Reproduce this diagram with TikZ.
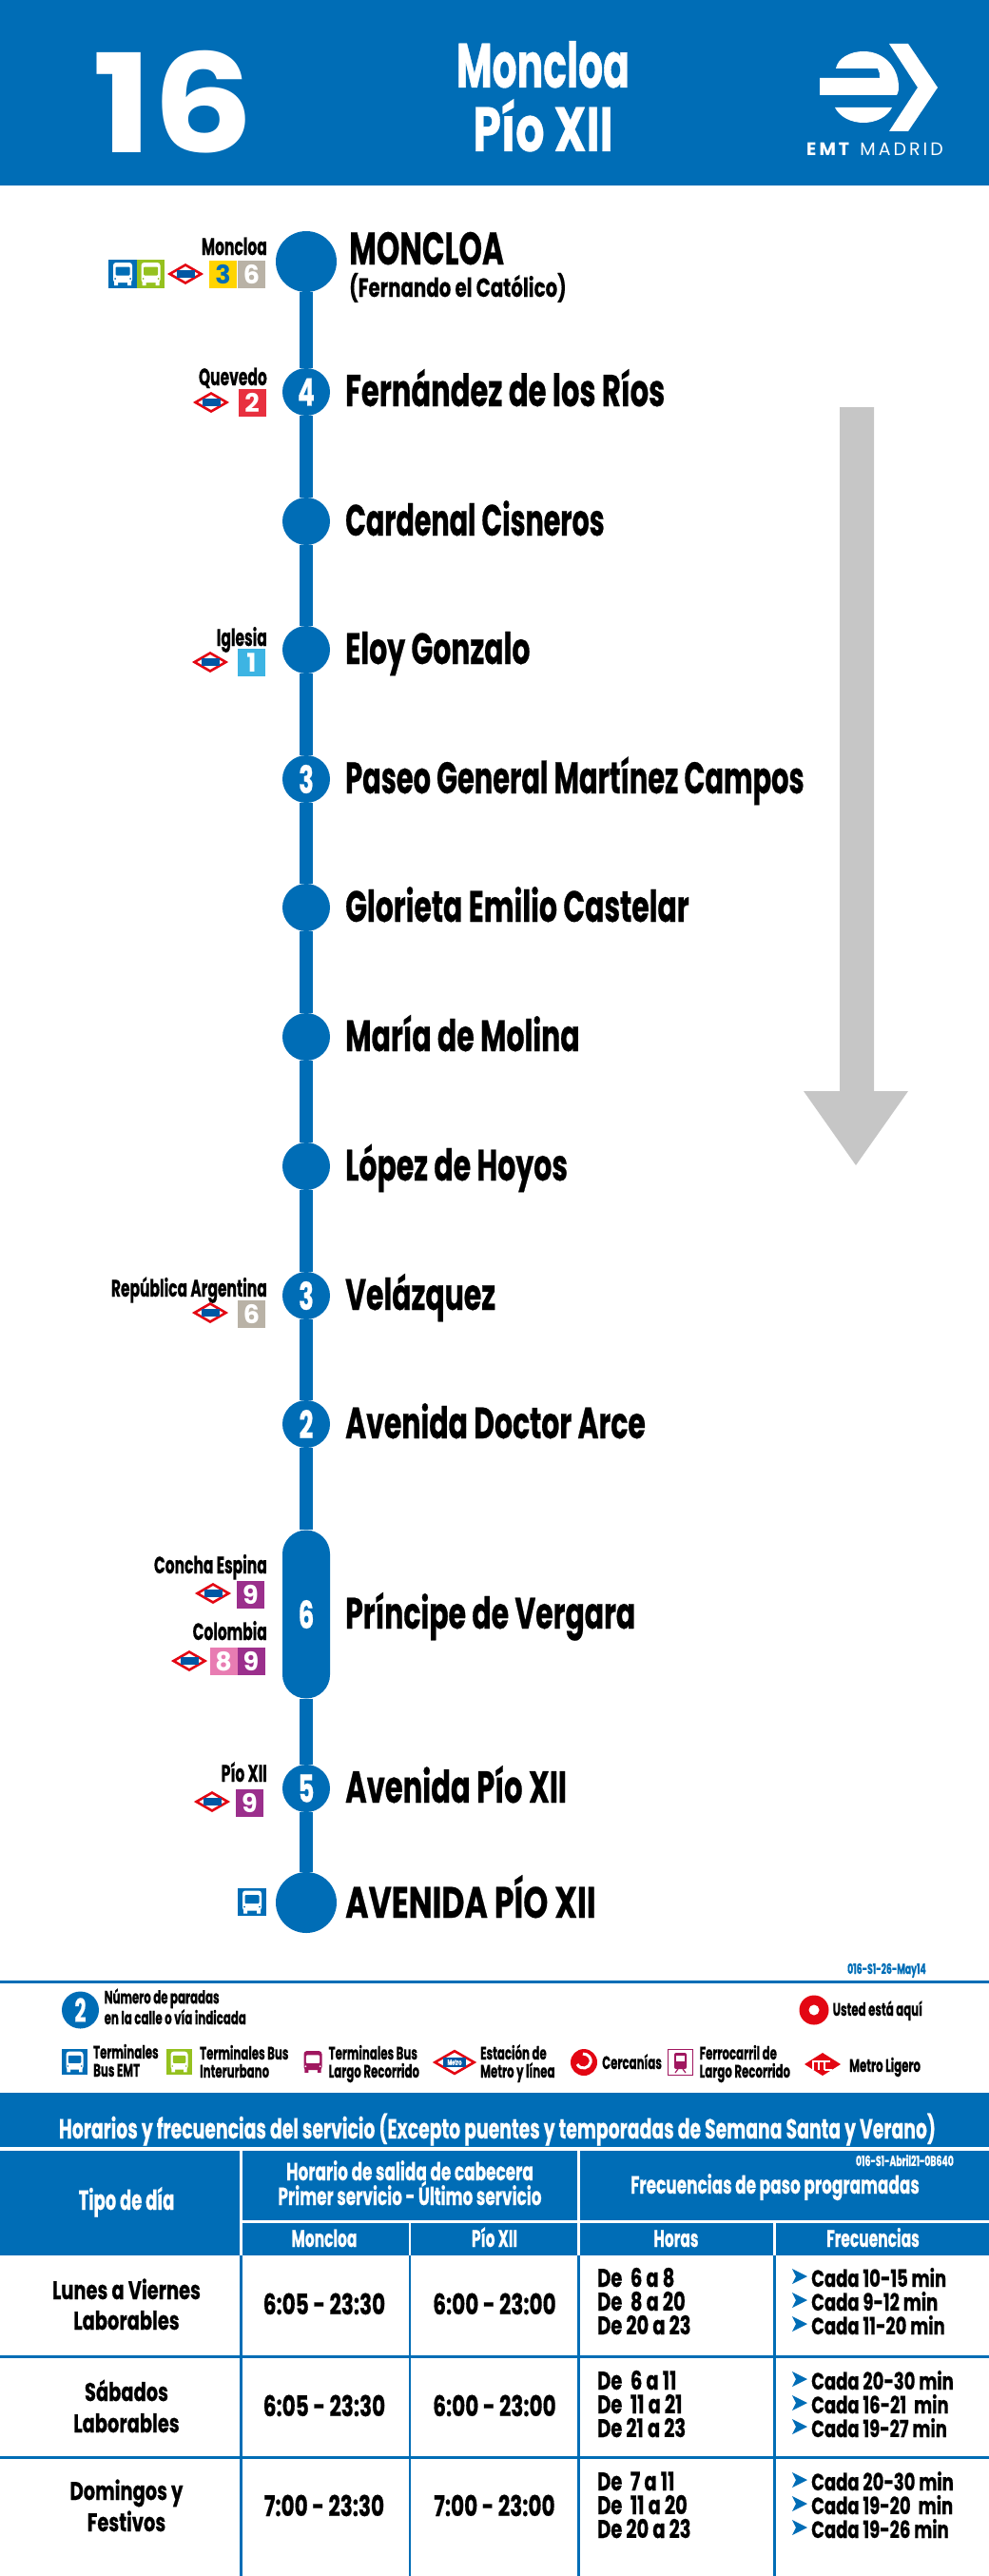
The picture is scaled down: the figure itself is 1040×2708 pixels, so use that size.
\documentclass[tikz,border=0pt]{standalone}
\usepackage{fontspec}
\usetikzlibrary{positioning}
\newfontfamily\emtfont{Poppins}[FakeStretch=0.62, FakeBold=0.5]
\newfontfamily\emtstop{Poppins}[FakeStretch=0.65, FakeBold=0.5]
\newfontfamily\emtmid{Poppins}[FakeStretch=0.72, FakeBold=0.5]
\newfontfamily\emtwide{Poppins}
\newfontfamily\emtbig{Poppins}[FakeStretch=1.16]
\newfontfamily\emtlogo{Poppins}[LetterSpace=16]
\definecolor{emtblue}{HTML}{006DB6}
\definecolor{emtgreen}{HTML}{95C11F}
\definecolor{metrored}{HTML}{E30613}
\definecolor{metroblue}{HTML}{0057A4}
\definecolor{lineyellow}{HTML}{FFD400}
\definecolor{linegrey}{HTML}{B9B2A6}
\definecolor{linered}{HTML}{E8303F}
\definecolor{linesky}{HTML}{3DB4E3}
\definecolor{linepurple}{HTML}{9B2F8C}
\definecolor{linepink}{HTML}{E87CB2}
\definecolor{longbus}{HTML}{A0175F}
\definecolor{arrowgrey}{HTML}{C6C6C6}
\newcommand{\emt}[1]{\emtfont\bfseries\fontsize{#1}{#1}\selectfont}
\newcommand{\ems}[1]{\emtstop\bfseries\fontsize{#1}{#1}\selectfont}
\newcommand{\emm}[1]{\emtmid\bfseries\fontsize{#1}{#1}\selectfont}
\newcommand{\wide}[1]{\emtwide\bfseries\fontsize{#1}{#1}\selectfont}
\tikzstyle{stop} = [circle, fill=emtblue, text=white, minimum size=50, inner sep=0, font=\ems{40}]
\tikzstyle{terminal} = [circle, fill=emtblue, minimum size=64, inner sep=0]
\tikzstyle{route} = [emtblue, line width=13.5]
\tikzstyle{stoplabel} = [anchor=base west, inner sep=0, font=\ems{46}]
\tikzstyle{metrolabel} = [anchor=base east, inner sep=0, font=\emt{25}]
\tikzstyle{linebox} = [minimum size=29, inner sep=0, text=white, font=\wide{27}]
\tikzstyle{legendtext} = [anchor=base west, inner sep=0, align=left, font=\emt{19}]
\tikzstyle{headcell} = [anchor=base, inner sep=0, text=white, font=\ems{26}]
\tikzstyle{bodycell} = [anchor=base, inner sep=0, font=\emm{27}]
\tikzstyle{timecell} = [anchor=base, inner sep=0, font=\emm{30}]
\tikzstyle{hourcell} = [anchor=base west, inner sep=0, font=\emm{27}]
\tikzstyle{cadacell} = [anchor=base west, inner sep=0, font=\emm{25}]
\tikzstyle{rowrule} = [emtblue, line width=3]
% bus glyph: x, y, scale, body colour, window colour
\newcommand{\busglyph}[5]{%
  \begin{scope}[shift={(#1,#2)}, scale=#3]
    \fill[#4, rounded corners=3] (-10,-12) rectangle (10,9);
    \fill[#4] (-9,8) rectangle (-5,12) (5,8) rectangle (9,12);
    \fill[#5, rounded corners=1] (-7.5,-7.5) rectangle (7.5,1.5);
    \fill[#5] (-8,5) circle (1) (8,5) circle (1);
  \end{scope}}
% metro diamond: x, y, scale
\newcommand{\metrodiamond}[3]{%
  \begin{scope}[shift={(#1,#2)}, scale=#3]
    \draw[metrored, line width=2.6, fill=white] (-16.5,0) -- (0,-9.5) -- (16.5,0) -- (0,9.5) -- cycle;
    \fill[metroblue] (-9.5,-4) rectangle (9.5,4);
  \end{scope}}
% frequency line with its small arrow: name, baseline, text
\newcommand{\cadarow}[3]{%
  \fill[emtblue] (833,#2-19) -- (849,#2-11) -- (833,#2-3) -- (837,#2-11) -- cycle;
  \node[cadacell] (#1) at (853,#2) {#3};}

\begin{document}
\begin{tikzpicture}[x=1pt, y=-1pt]
    \useasboundingbox (0,0) rectangle (1040,2708);

    % header
    \fill[emtblue] (0,0) rectangle (1040,195);
    \node[anchor=base, inner sep=0, text=white, font=\emtbig\bfseries\fontsize{144}{144}\selectfont] (linenumber) at (182,161) {16};
    \node[anchor=base, inner sep=0, text=white, font=\emt{66}] (headfrom) at (571,92) {Moncloa};
    \node[anchor=base, inner sep=0, text=white, font=\emm{66}] (headto) at (571,159) {Pío XII};
    \fill[white] (879,72) .. controls (881,61) and (894,54) .. (908,54)
       .. controls (930,54) and (945,71) .. (945,92)
       .. controls (945,96) and (944,98) .. (943,100) -- (862,100) -- (862,82) -- (925,82)
       .. controls (925,78) and (925,75) .. (923,72) -- cycle;
    \fill[white] (878,113) -- (938,113) .. controls (933,123) and (921,129) .. (908,129)
       .. controls (895,129) and (883,123) .. (878,113) -- cycle;
    \fill[white] (935,46) -- (955,46) -- (986,92) -- (955,138) -- (935,138) -- (965,92) -- cycle;
    \node[anchor=base, inner sep=0, text=white, font=\emtlogo\fontsize{19}{19}\selectfont] (logotext) at (920,164) {\textbf{EMT} MADRID};

    % direction arrow
    \fill[arrowgrey] (883,428) -- (919,428) -- (919,1147) -- (955,1147) -- (900,1225) -- (845,1147) -- (883,1147) -- cycle;

    % stops
    \node[terminal] (moncloa) at (322,275) {};
    \node[stop] (fernandez) at (322,412) {4};
    \node[stop] (cisneros) at (322,548) {};
    \node[stop] (eloy) at (322,683) {};
    \node[stop] (paseo) at (322,819) {3};
    \node[stop] (glorieta) at (322,954) {};
    \node[stop] (molina) at (322,1090) {};
    \node[stop] (hoyos) at (322,1226) {};
    \node[stop] (velazquez) at (322,1362) {3};
    \node[stop] (arce) at (322,1497) {2};
    \node[stop, rectangle, rounded corners=25, minimum height=177] (vergara) at (322,1697) {6};
    \node[stop] (piodoce) at (322,1880) {5};
    \node[terminal] (avenida) at (322,2000) {};

    \draw[route] (moncloa) -- (fernandez);
    \draw[route] (fernandez) -- (cisneros);
    \draw[route] (cisneros) -- (eloy);
    \draw[route] (eloy) -- (paseo);
    \draw[route] (paseo) -- (glorieta);
    \draw[route] (glorieta) -- (molina);
    \draw[route] (molina) -- (hoyos);
    \draw[route] (hoyos) -- (velazquez);
    \draw[route] (velazquez) -- (arce);
    \draw[route] (arce) -- (vergara);
    \draw[route] (vergara) -- (piodoce);
    \draw[route] (piodoce) -- (avenida);

    % stop names
    \node[stoplabel, font=\ems{48}] (moncloaname) at (367,278) {MONCLOA};
    \node[stoplabel, font=\emm{27.5}] (moncloasub) at (367,312) {(Fernando el Católico)};
    \node[stoplabel, font=\ems{47}] (fernandezname) at (363,427) {Fernández de los Ríos};
    \node[stoplabel, font=\emt{46}] (cisnerosname) at (363,563) {Cardenal Cisneros};
    \node[stoplabel] (eloyname) at (363,698) {Eloy Gonzalo};
    \node[stoplabel, font=\emt{46.5}] (paseoname) at (363,834) {Paseo General Martínez Campos};
    \node[stoplabel] (glorietaname) at (363,969) {Glorieta Emilio Castelar};
    \node[stoplabel] (molinaname) at (363,1105) {María de Molina};
    \node[stoplabel] (hoyosname) at (363,1241) {López de Hoyos};
    \node[stoplabel] (velazquezname) at (363,1377) {Velázquez};
    \node[stoplabel] (arcename) at (363,1512) {Avenida Doctor Arce};
    \node[stoplabel] (vergaraname) at (363,1712) {Príncipe de Vergara};
    \node[stoplabel, font=\ems{47}] (piodocename) at (363,1895) {Avenida Pío XII};
    \node[stoplabel, font=\emm{46}] (avenidaname) at (363,2016) {AVENIDA PÍO XII};

    % connections
    \node[metrolabel] (conmoncloa) at (281,268) {Moncloa};
    \fill[emtblue] (114,273) rectangle (144,303);
    \fill[emtgreen] (144,273) rectangle (173,303);
    \busglyph{129}{288}{1}{white}{emtblue}
    \busglyph{158.5}{288}{1}{white}{emtgreen}
    \metrodiamond{195}{288}{1}
    \node[linebox, fill=lineyellow, text=emtblue] (boxthree) at (234.5,288.5) {3};
    \node[linebox, fill=linegrey] (boxsix) at (264.5,288.5) {6};

    \node[metrolabel] (conquevedo) at (281,405) {Quevedo};
    \metrodiamond{222}{423}{1}
    \node[linebox, fill=linered] (boxtwo) at (265,423.5) {2};

    \node[metrolabel] (coniglesia) at (281,679) {Iglesia};
    \metrodiamond{221}{696}{1}
    \node[linebox, fill=linesky] (boxone) at (264.5,696.5) {1};

    \node[metrolabel] (conrepublica) at (281,1363) {República Argentina};
    \metrodiamond{221}{1380}{1}
    \node[linebox, fill=linegrey] (boxsixb) at (264.5,1381) {6};

    \node[metrolabel] (conconcha) at (281,1654) {Concha Espina};
    \metrodiamond{224}{1675}{1}
    \node[linebox, fill=linepurple] (boxnine) at (263.5,1676) {9};

    \node[metrolabel] (concolombia) at (281,1724) {Colombia};
    \metrodiamond{199}{1746}{1}
    \node[linebox, fill=linepink] (boxeight) at (235,1746.5) {8};
    \node[linebox, fill=linepurple] (boxnineb) at (264,1746.5) {9};

    \node[metrolabel] (conpio) at (281,1873) {Pío XII};
    \metrodiamond{223}{1894}{1}
    \node[linebox, fill=linepurple] (boxninec) at (262.5,1895.5) {9};

    \fill[emtblue] (250,1985) rectangle (280,2014);
    \busglyph{265}{1999.5}{1}{white}{emtblue}

    % legend
    \node[anchor=base east, inner sep=0, text=emtblue, font=\emt{15}] (stamp) at (974,2075) {016-S1-26-May14};
    \fill[emtblue] (0,2082) rectangle (1040,2085);
    \node[circle, fill=emtblue, text=white, minimum size=39, inner sep=0, font=\emt{34}] (legendcount) at (84.5,2113) {2};
    \node[legendtext] (legendcounttext) at (109.5,2128) {Número de paradas\\en la calle o vía indicada};
    \node[circle, fill=metrored, minimum size=31, inner sep=0] (legendhere) at (856,2113) {};
    \fill[white] (legendhere) circle (5.5);
    \node[legendtext] (legendheretext) at (875.5,2119) {Usted está aquí};

    \fill[emtblue] (65,2154) rectangle (91.5,2181);
    \busglyph{78.5}{2167.5}{0.9}{white}{emtblue}
    \node[legendtext] (legendemt) at (98,2183) {Terminales\\Bus EMT};
    \fill[emtgreen] (175,2154) rectangle (202,2181);
    \busglyph{188.5}{2167.5}{0.9}{white}{emtgreen}
    \node[legendtext] (legendinter) at (210,2184) {Terminales Bus\\Interurbano};
    \busglyph{329}{2167.5}{0.95}{longbus}{white}
    \node[legendtext] (legendlong) at (345.5,2184) {Terminales Bus\\Largo Recorrido};
    \metrodiamond{478}{2168}{1.25}
    \node[text=white, inner sep=0, font=\emt{8}] (legendmetroword) at (478,2168) {Metro};
    \node[legendtext] (legendmetro) at (505,2184) {Estación de\\Metro y línea};
    \node[circle, fill=metrored, minimum size=28, inner sep=0] (legendcercanias) at (614,2168) {};
    \draw[white, line width=3] (613,2159) .. controls (619,2159) and (622,2164) .. (621,2168) .. controls (620,2174) and (611,2177) .. (607,2170);
    \node[legendtext] (legendcercaniastext) at (633,2175) {Cercanías};
    \draw[longbus, line width=1, fill=white] (702.5,2154.5) rectangle (728,2181);
    \fill[longbus, rounded corners=2] (709,2158) rectangle (722,2175);
    \fill[white] (711,2161) rectangle (720,2167);
    \draw[longbus, line width=1.2] (710,2179) -- (713,2175) (721,2179) -- (718,2175);
    \node[legendtext] (legendrail) at (735.5,2184) {Ferrocarril de\\Largo Recorrido};
    \fill[metrored] (846,2170) -- (865,2158) -- (884,2170) -- (865,2182) -- cycle;
    \draw[white, line width=1.4] (855,2176) -- (855,2167) -- (873,2167) (861,2176) -- (861,2167) (867,2176) -- (867,2167) (867,2176) -- (875,2176);
    \node[legendtext] (legendlight) at (893,2178) {Metro Ligero};

    % timetable header
    \fill[emtblue] (0,2200) rectangle (1040,2257);
    \node[headcell, font=\ems{29}] (tabletitle) at (523,2248) {Horarios y frecuencias del servicio (Excepto puentes y temporadas de Semana Santa y Verano)};
    \fill[emtblue] (0,2261) rectangle (252,2371);
    \fill[emtblue] (255,2261) rectangle (607,2334);
    \fill[emtblue] (610,2261) rectangle (1040,2334);
    \fill[emtblue] (255,2337) rectangle (429.5,2371);
    \fill[emtblue] (432,2337) rectangle (607,2371);
    \fill[emtblue] (610,2337) rectangle (813,2371);
    \fill[emtblue] (816,2337) rectangle (1040,2371);
    \node[headcell, font=\emt{29}] (tipo) at (133,2323) {Tipo de día};
    \node[headcell] (salida) at (431,2292) {Horario de salida de cabecera};
    \node[headcell] (primer) at (431,2318) {Primer servicio - Último servicio};
    \node[headcell] (frecuenciashead) at (815,2306) {Frecuencias de paso programadas};
    \node[anchor=base east, inner sep=0, text=white, font=\emt{15}] (stampb) at (1003,2277) {016-S1-Abril21-0B640};
    \node[headcell, font=\emt{25}] (subfrom) at (341,2362) {Moncloa};
    \node[headcell, font=\emt{25}] (subto) at (520,2362) {Pío XII};
    \node[headcell, font=\emt{25}] (subhoras) at (711,2362) {Horas};
    \node[headcell, font=\emt{25}] (subfrec) at (918,2362) {Frecuencias};

    % timetable body
    \draw[rowrule, line width=2.5] (253.5,2371) -- (253.5,2708);
    \draw[rowrule, line width=2.5] (431,2371) -- (431,2708);
    \draw[rowrule, line width=2.5] (608.5,2371) -- (608.5,2708);
    \draw[rowrule, line width=2.5] (814.5,2371) -- (814.5,2708);
    \draw[rowrule] (0,2477.5) -- (1040,2477.5);
    \draw[rowrule] (0,2583.5) -- (1040,2583.5);

    \node[bodycell] (rowaa) at (133,2417) {Lunes a Viernes};
    \node[bodycell] (rowab) at (133,2449) {Laborables};
    \node[timecell] (timeaa) at (341,2433) {6:05 - 23:30};
    \node[timecell] (timeab) at (520,2433) {6:00 - 23:00};
    \node[hourcell] (hourone) at (628,2404) {De\, 6 a 8};
    \node[hourcell] (hourtwo) at (628,2429) {De\, 8 a 20};
    \node[hourcell] (hourthree) at (628,2454) {De 20 a 23};
    \cadarow{cadaone}{2404}{Cada 10-15 min}
    \cadarow{cadatwo}{2429}{Cada 9-12 min}
    \cadarow{cadathree}{2454}{Cada 11-20 min}

    \node[bodycell] (rowba) at (133,2524) {Sábados};
    \node[bodycell] (rowbb) at (133,2557) {Laborables};
    \node[timecell] (timeba) at (341,2540) {6:05 - 23:30};
    \node[timecell] (timebb) at (520,2540) {6:00 - 23:00};
    \node[hourcell] (hourfour) at (628,2512) {De\, 6 a 11};
    \node[hourcell] (hourfive) at (628,2537) {De\, 11 a 21};
    \node[hourcell] (hoursix) at (628,2562) {De 21 a 23};
    \cadarow{cadafour}{2512}{Cada 20-30 min}
    \cadarow{cadafive}{2537}{Cada 16-21\, min}
    \cadarow{cadasix}{2562}{Cada 19-27 min}

    \node[bodycell] (rowca) at (133,2628) {Domingos y};
    \node[bodycell] (rowcb) at (133,2661) {Festivos};
    \node[timecell] (timeca) at (341,2645) {7:00 - 23:30};
    \node[timecell] (timecb) at (520,2645) {7:00 - 23:00};
    \node[hourcell] (hourseven) at (628,2618) {De\, 7 a 11};
    \node[hourcell] (houreight) at (628,2643) {De\, 11 a 20};
    \node[hourcell] (hournine) at (628,2668) {De 20 a 23};
    \cadarow{cadaseven}{2618}{Cada 20-30 min}
    \cadarow{cadaeight}{2643}{Cada 19-20\, min}
    \cadarow{cadanine}{2668}{Cada 19-26 min}
\end{tikzpicture}
\end{document}
